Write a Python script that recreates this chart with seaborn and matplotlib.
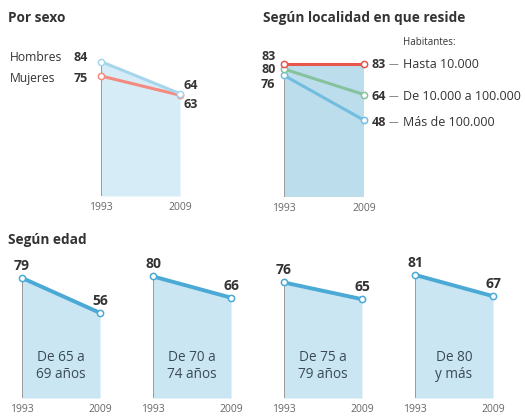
import matplotlib
matplotlib.use("Agg")
import matplotlib.pyplot as plt
import seaborn as sns
import pandas as pd

# data
years = [1993, 2009]

sexo_labels = ["Hombres", "Mujeres"]
hombres = [84, 64]
mujeres = [75, 63]

localidad_labels = ["Hasta 10.000", "De 10.000 a 100.000", "Más de 100.000"]
hasta_10k = [83, 83]
de_10k_100k = [80, 64]
mas_100k = [76, 48]

edad_labels = ["De 65 a\n69 años", "De 70 a\n74 años", "De 75 a\n79 años", "De 80\ny más"]
edad_65_69 = [79, 56]
edad_70_74 = [80, 66]
edad_75_79 = [76, 65]
edad_80_mas = [81, 67]

sns.set_style("white")
plt.rcParams["font.family"] = ["Open Sans", "DejaVu Sans"]

W, H = 525, 417
fig = plt.figure(figsize=(W / 100, H / 100), dpi=100)
fig.patch.set_facecolor("white")

DARK = "#333333"
GRAY = "#666666"
EDGE = "#9a9a9a"


def px_axes(left, right, base, px_per_unit):
    # axes placed in pixel coords, y range 0..100
    height = 100 * px_per_unit
    ax = fig.add_axes([left / W, (H - base) / H, (right - left) / W, height / H])
    ax.set_xlim(1993, 2009)
    ax.set_ylim(0, 100)
    ax.set_xticks(years)
    ax.set_xticklabels([str(y) for y in years])
    ax.set_yticks([])
    ax.tick_params(axis="x", length=0, pad=4, labelsize=7.5, labelcolor=GRAY)
    for s in ax.spines.values():
        s.set_visible(False)
    ax.set_facecolor("none")
    return ax


def draw_panel(ax, top, fill):
    ax.fill_between(years, 0, top, color=fill, lw=0, zorder=1)
    ax.plot([1993, 1993], [0, top[0]], color=EDGE, lw=0.7, zorder=2)
    ax.plot([2009, 2009], [0, top[1]], color=EDGE, lw=0.7, zorder=2)


def draw_line(ax, vals, color, lw=2.2):
    df = pd.DataFrame({"year": years, "value": vals})
    sns.lineplot(data=df, x="year", y="value", ax=ax, color=color, lw=lw,
                 marker="o", markersize=4.5, markerfacecolor="white",
                 markeredgecolor=color, markeredgewidth=1.1, zorder=3)
    ax.lines[-1].set_clip_on(False)
    ax.set_xlabel("")
    ax.set_ylabel("")


def note(ax, text, x, y, dx, dy, ha="left", va="center", size=8.7, bold=False, color=DARK):
    ax.annotate(text, xy=(x, y), xytext=(dx, dy), textcoords="offset pixels",
                ha=ha, va=va, fontsize=size, color=color,
                fontweight="bold" if bold else "normal", annotation_clip=False)


# ---- Por sexo
ax1 = px_axes(101, 180, 196, 1.6)
draw_panel(ax1, hombres, "#d6edf7")
draw_line(ax1, mujeres, "#f58a80")
draw_line(ax1, hombres, "#a6d6ec")
note(ax1, sexo_labels[0], 1993, hombres[0], -91, 4)
note(ax1, str(hombres[0]), 1993, hombres[0], -13, 4, ha="right", bold=True, size=9)
note(ax1, sexo_labels[1], 1993, mujeres[0], -91, -3)
note(ax1, str(mujeres[0]), 1993, mujeres[0], -13, -3, ha="right", bold=True, size=9)
note(ax1, str(hombres[1]), 2009, hombres[1], 3, 8, bold=True, size=9)
note(ax1, str(mujeres[1]), 2009, mujeres[1], 3, -9, bold=True, size=9)

# ---- Según localidad
ax2 = px_axes(284, 364, 197, 1.6)
draw_panel(ax2, hasta_10k, "#bcdeec")
loc_series = [hasta_10k, de_10k_100k, mas_100k]
loc_colors = ["#e9564c", "#86c29e", "#72bde0"]
for vals, col in zip(loc_series[::-1], loc_colors[::-1]):
    draw_line(ax2, vals, col)
left_dy = [8, -1, -9]
right_dy = [0, -2, -2]
for vals, lab, ldy, rdy in zip(loc_series, localidad_labels, left_dy, right_dy):
    note(ax2, str(vals[0]), 1993, vals[0], -23, ldy, bold=True, size=9)
    note(ax2, str(vals[1]), 2009, vals[1], 8, rdy, bold=True, size=9)
    note(ax2, "\u2014", 2009, vals[1], 25, rdy, size=7, color=GRAY)
    note(ax2, lab, 2009, vals[1], 39, rdy, size=9)
note(ax2, "Habitantes:", 2009, hasta_10k[1], 39, 22, size=7)

# ---- Según edad
edad_series = [edad_65_69, edad_70_74, edad_75_79, edad_80_mas]
lefts = [22, 153, 284, 415]
for left, vals, lab in zip(lefts, edad_series, edad_labels):
    ax = px_axes(left, left + 78, 398, 1.52)
    draw_panel(ax, vals, "#c9e6f2")
    draw_line(ax, vals, "#4ba9d6", lw=2.8)
    note(ax, str(vals[0]), 1993, vals[0], 0, 12, ha="center", size=10, bold=True)
    note(ax, str(vals[1]), 2009, vals[1], 0, 12, ha="center", size=10, bold=True)
    ax.text(2001, 21, lab, ha="center", va="center", fontsize=9.8,
            color="#3b4a55", linespacing=1.2)

# titles
fig.text(8 / W, 1 - 18 / H, "Por sexo", fontsize=9.8, fontweight="bold", color=DARK, va="center")
fig.text(263 / W, 1 - 18 / H, "Según localidad en que reside", fontsize=9.8,
         fontweight="bold", color=DARK, va="center")
fig.text(8 / W, 1 - 240 / H, "Según edad", fontsize=9.8, fontweight="bold", color=DARK, va="center")

fig.savefig("out.png", dpi=100, facecolor=fig.get_facecolor())
